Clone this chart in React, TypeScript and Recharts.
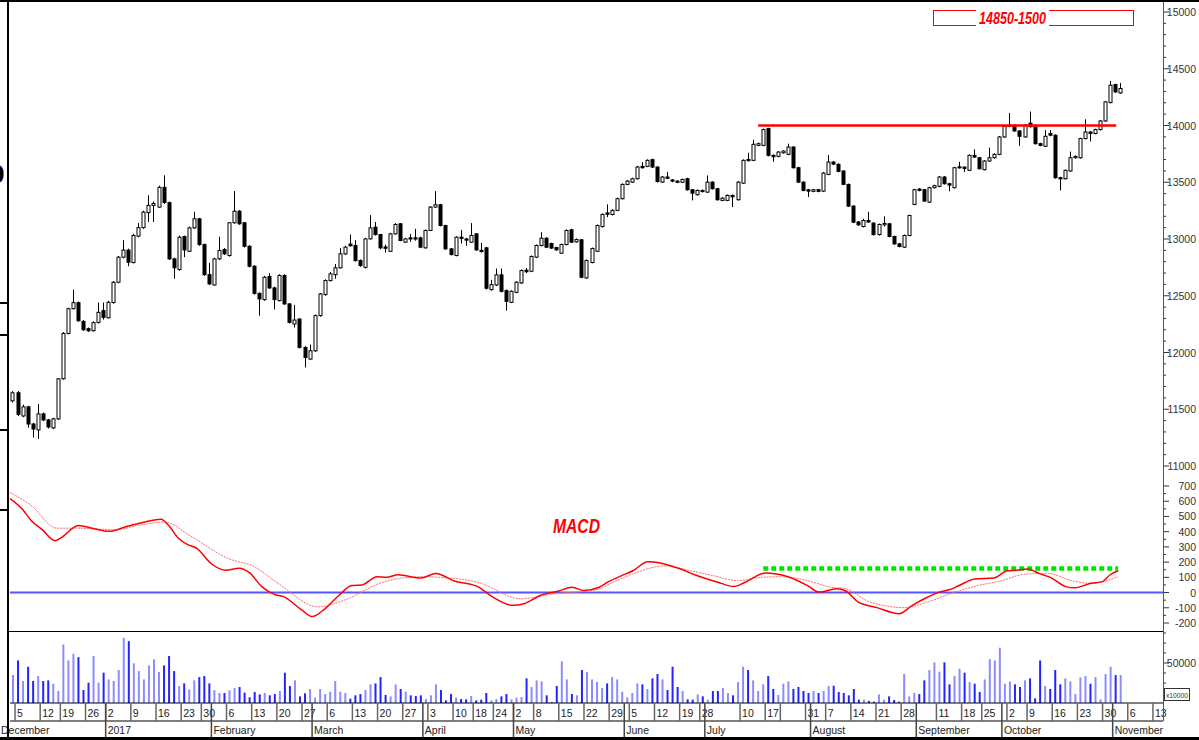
import React from 'react';
import { ComposedChart, Bar, Line, XAxis, YAxis, ReferenceLine, Cell } from 'recharts';

// ---------------- DATA ----------------
const OPEN = [
  11574, 11645, 11441, 11521, 11370, 11318, 11459, 11406, 11336, 11415, 11768, 12168, 12386, 12439, 12274, 12210, 12192, 12265, 12369, 12306,
  12440, 12619, 12840, 12902, 12792, 13025, 13100, 13232, 13296, 13281, 13455, 13320, 12825, 12731, 13021, 12892, 13098, 13178, 12951, 12686,
  12595, 12825, 12907, 12854, 13143, 13245, 13143, 12936, 12760, 12521, 12466, 12669, 12569, 12457, 12678, 12428, 12251,
  12295, 12045, 11942, 12015, 12325, 12510, 12634, 12686, 12746, 12869, 12955, 12943, 12810, 12750, 13001, 13104, 13039, 12930, 12892, 13045,
  13134, 12972, 13010, 13010, 13010, 12922, 13075, 13281, 13302, 13119, 12913, 12854, 13016, 13000, 12972, 13045, 12900, 12922, 12554, 12595,
  12684, 12545, 12442, 12530, 12613, 12725, 12716, 12840, 12943, 13007, 12960, 12925, 12875, 12951, 13081, 12975, 12993, 12657,
  12793, 12892, 13110, 13230, 13216, 13252, 13355, 13481, 13501, 13531, 13640, 13640, 13699, 13634, 13501, 13546, 13520, 13510, 13500, 13531,
  13434, 13390, 13428, 13413, 13501, 13443, 13340, 13340, 13384, 13346, 13492, 13700, 13693, 13825, 13825, 13973, 13737, 13728, 13760, 13746,
  13810, 13628, 13501, 13434, 13420, 13434, 13422, 13569, 13678, 13658, 13599, 13481, 13290, 13150, 13110, 13163, 13140, 13039,
  13125, 13134, 13022, 12957, 12928, 13031, 13305, 13440, 13434, 13325, 13452, 13464, 13546, 13487, 13452, 13628, 13633, 13605, 13737, 13716,
  13611, 13687, 13716, 13746, 13899, 13993, 14002, 13952, 13899, 14020, 13987, 13840, 13817, 13930, 13914, 13540, 13531, 13599, 13716, 13716,
  13885, 13943, 13929, 13964, 14040, 14202, 14361, 14287,
];
const HIGH = [
  11660, 11660, 11540, 11530, 11380, 11547, 11470, 11415, 11425, 11775, 12180, 12395, 12554, 12450, 12285, 12220, 12275, 12440, 12440, 12455,
  12630, 12850, 12990, 12915, 13045, 13140, 13250, 13385, 13330, 13470, 13561, 13330, 12835, 13030, 13030, 13110, 13240, 13185, 12960, 12790,
  12835, 13020, 12920, 13150, 13422, 13255, 13150, 12945, 12770, 12530, 12675, 12700, 12580, 12690, 12690, 12435, 12420,
  12300, 12055, 12070, 12335, 12525, 12645, 12710, 12780, 12920, 12940, 13039, 12990, 12820, 13010, 13210, 13150, 13045, 12950, 13055, 13140,
  13140, 13010, 13045, 13090, 13020, 13085, 13290, 13422, 13310, 13125, 12920, 13025, 13080, 13010, 13140, 13050, 12965, 12930, 12640, 12740,
  12740, 12555, 12548, 12628, 12732, 12745, 12855, 12952, 13060, 13015, 12968, 12932, 12960, 13085, 13090, 13005, 13000, 12820,
  12925, 13128, 13226, 13305, 13262, 13365, 13490, 13520, 13540, 13644, 13677, 13702, 13708, 13640, 13555, 13590, 13528, 13518, 13532, 13540,
  13440, 13436, 13436, 13560, 13508, 13450, 13368, 13392, 13392, 13510, 13702, 13760, 13875, 13850, 13973, 13980, 13745, 13775, 13782, 13840,
  13818, 13636, 13508, 13442, 13442, 13442, 13590, 13740, 13686, 13666, 13606, 13488, 13298, 13158, 13178, 13240, 13148, 13136,
  13200, 13142, 13030, 12965, 13040, 13215, 13442, 13448, 13442, 13460, 13478, 13555, 13554, 13495, 13636, 13680, 13640, 13745, 13790, 13724,
  13695, 13805, 13755, 13908, 14002, 14111, 14010, 13960, 14010, 14123, 13995, 13848, 13960, 13960, 13922, 13548, 13612, 13770, 13736, 13892,
  14055, 13950, 13972, 14048, 14216, 14393, 14368, 14375,
];
const LOW = [
  11560, 11440, 11430, 11338, 11250, 11238, 11395, 11330, 11325, 11405, 11760, 12160, 12380, 12270, 12190, 12180, 12185, 12255, 12290, 12300,
  12430, 12610, 12830, 12760, 12785, 13015, 13090, 13150, 13150, 13275, 13310, 12815, 12650, 12720, 12840, 12885, 13090, 12940, 12675, 12595,
  12590, 12815, 12860, 12845, 13135, 13125, 12925, 12750, 12510, 12325, 12455, 12560, 12380, 12450, 12420, 12255, 12220,
  12035, 11868, 11935, 12005, 12315, 12500, 12625, 12650, 12740, 12860, 12935, 12800, 12755, 12740, 12995, 13030, 12910, 12880, 12885, 13040,
  12980, 12965, 12975, 12985, 12920, 12915, 13070, 13275, 13110, 12905, 12855, 12848, 12960, 12940, 12965, 12895, 12880, 12555, 12545, 12585,
  12530, 12369, 12435, 12522, 12605, 12700, 12708, 12832, 12935, 12920, 12912, 12895, 12868, 12944, 12965, 12968, 12655, 12650,
  12785, 12885, 13100, 13193, 13208, 13245, 13348, 13474, 13494, 13524, 13620, 13633, 13626, 13498, 13494, 13527, 13500, 13492, 13493, 13426,
  13340, 13383, 13410, 13405, 13436, 13338, 13333, 13333, 13281, 13338, 13485, 13682, 13686, 13818, 13818, 13728, 13680, 13720, 13752, 13738,
  13620, 13494, 13420, 13370, 13412, 13412, 13414, 13562, 13652, 13588, 13474, 13282, 13140, 13117, 13102, 13142, 13031, 13031,
  13110, 13014, 12949, 12926, 12920, 13024, 13298, 13420, 13326, 13318, 13445, 13456, 13480, 13420, 13445, 13620, 13590, 13598, 13715, 13612,
  13604, 13680, 13708, 13738, 13892, 13985, 13945, 13820, 13892, 13982, 13832, 13817, 13810, 13905, 13532, 13428, 13524, 13592, 13708, 13708,
  13878, 13860, 13922, 13956, 14032, 14195, 14288, 14280,
];
const CLOSE = [
  11645, 11455, 11521, 11370, 11326, 11459, 11406, 11344, 11415, 11768, 12168, 12386, 12439, 12280, 12201, 12192, 12263, 12354, 12310, 12442,
  12619, 12840, 12902, 12795, 13031, 13100, 13237, 13296, 13313, 13455, 13322, 12825, 12746, 13016, 12904, 13098, 13178, 12951, 12686, 12604,
  12825, 12898, 12869, 13143, 13245, 13134, 12936, 12760, 12521, 12472, 12663, 12569, 12466, 12678, 12428, 12265, 12286,
  12045, 11956, 12015, 12325, 12516, 12634, 12693, 12746, 12869, 12928, 12940, 12810, 12766, 13001, 13098, 13039, 12922, 12918, 13045, 13128,
  12987, 13001, 13000, 13000, 12928, 13075, 13281, 13302, 13119, 12913, 12863, 13016, 13005, 12990, 13031, 12904, 12890, 12566, 12598, 12684,
  12539, 12451, 12539, 12619, 12722, 12712, 12846, 12943, 13007, 12928, 12920, 12905, 12951, 13075, 12972, 12995, 12663, 12810,
  12916, 13119, 13216, 13218, 13252, 13355, 13481, 13510, 13531, 13634, 13628, 13693, 13634, 13507, 13546, 13535, 13510, 13500, 13525, 13434,
  13404, 13428, 13418, 13501, 13443, 13346, 13360, 13384, 13372, 13501, 13693, 13690, 13834, 13840, 13964, 13737, 13725, 13766, 13775, 13810,
  13628, 13501, 13428, 13422, 13434, 13420, 13581, 13678, 13660, 13596, 13481, 13290, 13148, 13125, 13163, 13150, 13039, 13128,
  13137, 13022, 12957, 12934, 13031, 13207, 13434, 13428, 13334, 13452, 13470, 13546, 13487, 13475, 13628, 13636, 13622, 13737, 13722, 13619,
  13687, 13716, 13746, 13899, 13993, 14002, 13952, 13905, 14002, 13990, 13840, 13825, 13905, 13914, 13540, 13530, 13605, 13716, 13728, 13885,
  13943, 13930, 13964, 14040, 14208, 14355, 14296, 14326,
];
const VOLUME = [
  34900, 53200, 27500, 45300, 27500, 33700, 27500, 28300, 24100, 15000, 73200, 53200, 61600, 57400, 16200, 25400, 58700, 25400, 37900, 29500,
  27500, 41200, 81500, 77400, 49500, 39900, 29500, 47000, 54500, 38700, 47000, 58700, 39900, 21200, 24500, 17100, 28300, 32400, 33700, 24500,
  16200, 12500, 12500, 15800, 18700, 20000, 12900, 7100, 13700, 10800, 12500, 9600, 11200, 15000, 37900, 21200, 28300, 8300, 12100, 17500,
  6700, 17500, 11200, 14100, 27500, 14100, 12500, 5400, 9600, 11200, 16200, 23300, 24500, 32400, 10000, 8300, 23300, 17500, 14100, 9600,
  8700, 9600, 5000, 9600, 23300, 16200, 3300, 11200, 6700, 5000, 4600, 8700, 3300, 4200, 12500, 3300, 5000, 8300, 11200, 4600,
  6700, 7500, 30800, 20000, 28300, 27000, 9600, 1200, 21200, 52000, 29500, 11200, 9600, 41200, 38700,
  29500, 26200, 18700, 24500, 32400, 29500, 14100, 7100, 12500, 24500, 23300, 17500, 30800, 36200, 29500, 16200, 45300, 20000, 15000, 4600,
  4200, 10800, 8300, 4200, 15000, 15000, 18700, 12500, 9600, 26200, 45300, 41200, 28300, 15000, 23300, 33700, 17500, 10000, 24100, 27000,
  17500, 20000, 15000, 12500, 15000, 12500, 15000, 21200, 21600, 13700, 12500, 9600, 17500, 4200, 4200, 2500, 1700, 10800, 4200, 8300,
  3700, 1700, 36200, 8300, 12500, 11200, 28300, 41200, 50800, 39100, 50800, 23300, 33700, 42800, 37900, 26200, 24100, 13700, 29500, 54900,
  53200, 69100, 24100, 27000, 23300, 20000, 28300, 30800, 5800, 53200, 21200, 17500, 41200, 23300, 30800, 27000, 11200, 32000, 33700, 24100,
  32400, 4600, 36200, 45300, 34900, 34900,
];

// MACD and its signal line: [trading-day position, value]
const MACD_LINE: [number, number][] = [
  [0, 617], [2.6, 542], [4.1, 477], [6.4, 413], [9.0, 341], [10.1, 359], [13.6, 441], [16.3, 423], [19.7, 402], [23.0, 432],
  [26.8, 463], [30.0, 482], [31.4, 445], [33.4, 359], [35.3, 315], [37.1, 290], [40.1, 186], [42.9, 147], [45.5, 160], [47.5, 132],
  [50.0, 39], [52.7, -14], [54.2, -25], [58.0, -116], [60.0, -158], [62.6, -105], [65.3, -19], [67.9, 46], [69.9, 50], [72.9, 104],
  [74.8, 100], [77.1, 117], [81.6, 95], [84.6, 126], [88.1, 78], [92.9, 39], [95.7, -25], [99.9, -84], [102.1, -73], [105.3, -19],
  [109.0, 10], [111.6, 35], [114.0, 14], [117.0, 35], [118.7, 68], [121.4, 110], [123.7, 143], [126.7, 203], [127.9, 201], [132.9, 158],
  [136.0, 117], [140.6, 68], [143.8, 39], [146.0, 68], [150.0, 128], [154.5, 104], [158.4, 46], [160.7, 3], [164.2, 25], [166.0, 10],
  [168.4, -61], [172.2, -99], [176.6, -139], [179.2, -84], [182.3, -29], [184.6, 3], [186.5, 18], [188.5, 46], [191.6, 89], [195.4, 95],
  [198.1, 143], [200.0, 147], [202.0, 154], [204.7, 121], [206.6, 100], [209.7, 39], [211.5, 31], [214.7, 61], [217.0, 72], [218.5, 117],
  [220.1, 143],
];
const SIGNAL_LINE: [number, number][] = [
  [0, 657], [4.1, 575], [9.3, 423], [13.2, 423], [20.9, 413], [25.4, 441], [30.7, 463], [35.9, 370], [43.7, 219], [48.2, 175],
  [53.4, 57], [61.2, -94], [66.3, -51], [74.1, 68], [81.6, 104], [89.2, 89], [92.9, 68], [101.4, -41], [108.2, -8], [116.6, 20],
  [119.8, 68], [124.5, 132], [129.9, 175], [135.2, 143], [139.8, 110], [144.5, 78], [149.2, 100], [153.7, 104], [158.4, 78], [163.1, 35],
  [166.0, 25], [170.7, -61], [177.7, -99], [182.3, -61], [187.7, 3], [192.3, 46], [197.0, 78], [201.6, 121], [206.2, 126], [210.8, 78],
  [214.7, 61], [220.1, 104],
];
const MACD_LEVEL: [number, number][] = [[149.6, 158], [220.1, 158]];
const RESISTANCE: [number, number][] = [[148.6, 14000], [219.7, 14000]];

// x-axis labels: [trading-day slot, label]
const DAY_TICKS: [number, string][] = [
  [1, '5'], [6, '12'], [10, '19'], [15, '26'], [19, '2'], [24, '9'], [29, '16'], [34, '23'], [38, '30'], [43, '6'],
  [48, '13'], [53, '20'], [58, '27'], [63, '6'], [68, '13'], [73, '20'], [78, '27'], [83, '3'], [88, '10'], [92, '18'],
  [96, '24'], [100, '2'], [104, '8'], [109, '15'], [114, '22'], [119, '29'], [123, '5'], [128, '12'], [133, '19'], [137, '28'],
  [145, '10'], [150, '17'], [153, ''], [158, '31'], [162, '7'], [167, '14'], [172, '21'], [177, '28'], [184, '11'], [189, '18'],
  [193, '25'], [198, '2'], [202, '9'], [207, '16'], [212, '23'], [217, '30'], [222, '6'], [227, '13'],
];
const MONTH_TICKS: [number, string][] = [
  [0, 'December'], [19, '2017'], [40, 'February'], [60, 'March'], [82, 'April'], [100, 'May'], [122, 'June'],
  [138, 'July'], [159, 'August'], [180, 'September'], [197, 'October'], [219, 'November'],
];
const PRICE_LABELS = [11000, 11500, 12000, 12500, 13000, 13500, 14000, 14500, 15000];
const MACD_LABELS = [-200, -100, 0, 100, 200, 300, 400, 500, 600, 700];
const VOLUME_LABELS = [50000];

// ---------------- LAYOUT ----------------
const W = 1199;
const H = 740;
const LEFT = 10;
const RIGHT_W = 36;
const AXIS_X = W - RIGHT_W; // 1163
const X_DOMAIN: [number, number] = [0, 229];
const FONT = "'Liberation Sans',Arial,sans-serif";
const AXIS_FS = 10.5;

const PRICE_TOP = 0, PRICE_H = 478, PRICE_M = { top: 12, right: 0, bottom: 12, left: LEFT };
const MACD_TOP = 470, MACD_H = 160, MACD_M = { top: 16, right: 0, bottom: 7, left: LEFT };
const VOL_TOP = 625, VOL_H = 112, VOL_M = { top: 6, right: 0, bottom: 0, left: LEFT };
const DAY_H = 18, MONTH_H = 16;
const VOL_PLOT_BOTTOM = VOL_H - DAY_H - MONTH_H; // 78 in chart coords

const range = (a: number, b: number, s: number) => {
  const r: number[] = [];
  for (let v = a; v <= b + 1e-9; v += s) r.push(Math.round(v * 100) / 100);
  return r;
};
const PRICE_TICKS = range(11000, 15000, 100);
const MACD_TICKS = range(-250, 700, 50);
const VOLUME_TICKS = range(12500, 87500, 12500);

const candles = OPEN.map((o, i) => ({
  x: i + 0.5,
  range: [LOW[i], HIGH[i]],
  o,
  h: HIGH[i],
  l: LOW[i],
  c: CLOSE[i],
  vol: VOLUME[i],
  up: CLOSE[i] >= o,
}));
const toPts = (arr: [number, number][]) => arr.map(([x, v]) => ({ x, v }));
const macdData = toPts(MACD_LINE);
const signalData = toPts(SIGNAL_LINE);
const levelData = toPts(MACD_LEVEL);
const resistanceData = toPts(RESISTANCE);
const dayLabel = new Map(DAY_TICKS);
const monthLabel = new Map(MONTH_TICKS);

// ---------------- SHAPES / TICKS ----------------
const CandleShape = (props: any) => {
  const { x, y, width, height, payload } = props;
  if (payload == null || x == null) return null;
  const top = height >= 0 ? y : y + height;
  const h = Math.abs(height);
  const span = payload.h - payload.l;
  const k = span > 0 ? h / span : 0;
  const yo = top + (payload.h - payload.o) * k;
  const yc = top + (payload.h - payload.c) * k;
  const bt = Math.min(yo, yc);
  const bb = Math.max(yo, yc);
  const cx = Math.round(x + width / 2) + 0.5;
  return (
    <g>
      <line x1={cx} x2={cx} y1={top} y2={top + h} stroke="#000" strokeWidth={1} />
      <rect
        x={cx - 1.5}
        y={bt}
        width={3}
        height={Math.max(bb - bt, 1)}
        fill={payload.up ? '#fff' : '#000'}
        stroke="#000"
        strokeWidth={1}
      />
    </g>
  );
};

const makeRightTick = (labels: number[]) => (props: any) => {
  const { y, payload } = props;
  const v = payload.value;
  const major = labels.includes(v);
  return (
    <g>
      <line x1={AXIS_X} x2={AXIS_X + (major ? 6 : 3)} y1={y} y2={y} stroke="#333" strokeWidth={1} />
      {major && (
        <text x={W - 3} y={y + 4} textAnchor="end" fontSize={AXIS_FS} fontFamily={FONT} fill="#333">
          {v}
        </text>
      )}
    </g>
  );
};
const PriceTick = makeRightTick(PRICE_LABELS);
const MacdTick = makeRightTick(MACD_LABELS);
const VolTick = makeRightTick(VOLUME_LABELS);

const DayTick = (props: any) => {
  const { x, payload } = props;
  const label = dayLabel.get(payload.value) || '';
  return (
    <g>
      <line x1={x} x2={x} y1={VOL_PLOT_BOTTOM} y2={VOL_PLOT_BOTTOM + DAY_H} stroke="#666" strokeWidth={1.5} />
      {label && (
        <text x={x + 2} y={VOL_PLOT_BOTTOM + 14} fontSize={AXIS_FS} fontFamily={FONT} fill="#222">
          {label}
        </text>
      )}
    </g>
  );
};

const MonthTick = (props: any) => {
  const { x, payload } = props;
  const label = monthLabel.get(payload.value) || '';
  const first = payload.value === 0;
  return (
    <g>
      {!first && <line x1={x} x2={x} y1={VOL_PLOT_BOTTOM} y2={VOL_H} stroke="#444" strokeWidth={1.5} />}
      <text x={first ? 1 : x + 2} y={VOL_H - 3} fontSize={AXIS_FS} fontFamily={FONT} fill="#222">
        {label}
      </text>
    </g>
  );
};

// ---------------- APP ----------------
export default function App() {
  return (
    <div style={{ position: 'absolute', left: 0, top: 0, width: W, height: H, background: '#fff', overflow: 'hidden' }}>
      {/* Price panel */}
      <div style={{ position: 'absolute', left: 0, top: PRICE_TOP }}>
        <ComposedChart width={W} height={PRICE_H} data={candles} margin={PRICE_M}>
          <XAxis dataKey="x" type="number" domain={X_DOMAIN} hide allowDataOverflow />
          <YAxis
            orientation="right"
            type="number"
            domain={[11000, 15000]}
            ticks={PRICE_TICKS}
            interval={0}
            tick={PriceTick}
            tickLine={false}
            axisLine={false}
            width={RIGHT_W}
            allowDataOverflow
          />
          <Bar dataKey="range" barSize={4} shape={(p: any) => <CandleShape {...p} />} isAnimationActive={false} />
          <Line
            data={resistanceData}
            dataKey="v"
            type="linear"
            stroke="#ff0000"
            strokeWidth={2.5}
            dot={false}
            isAnimationActive={false}
          />
        </ComposedChart>
      </div>

      {/* MACD panel */}
      <div style={{ position: 'absolute', left: 0, top: MACD_TOP }}>
        <ComposedChart width={W} height={MACD_H} margin={MACD_M}>
          <XAxis dataKey="x" type="number" domain={X_DOMAIN} hide allowDataOverflow />
          <YAxis
            orientation="right"
            type="number"
            domain={[-200, 700]}
            ticks={MACD_TICKS}
            interval={0}
            tick={MacdTick}
            tickLine={false}
            axisLine={false}
            width={RIGHT_W}
            allowDataOverflow
          />
          <ReferenceLine y={0} stroke="#5555ff" strokeWidth={2} />
          <Line
            data={levelData}
            dataKey="v"
            type="linear"
            stroke="#00e600"
            strokeWidth={4.5}
            strokeDasharray="5 3"
            dot={false}
            isAnimationActive={false}
          />
          <Line
            data={signalData}
            dataKey="v"
            type="monotone"
            stroke="#ff6a6a"
            strokeWidth={1}
            strokeDasharray="2 1"
            dot={false}
            isAnimationActive={false}
          />
          <Line
            data={macdData}
            dataKey="v"
            type="monotone"
            stroke="#ff0000"
            strokeWidth={1.5}
            dot={false}
            isAnimationActive={false}
          />
        </ComposedChart>
      </div>

      {/* Volume panel + date axis */}
      <div style={{ position: 'absolute', left: 0, top: VOL_TOP }}>
        <ComposedChart width={W} height={VOL_H} data={candles} margin={VOL_M}>
          <XAxis
            xAxisId="d"
            dataKey="x"
            type="number"
            domain={X_DOMAIN}
            ticks={DAY_TICKS.map((t) => t[0])}
            interval={0}
            tick={DayTick}
            tickLine={false}
            axisLine={{ stroke: '#000' }}
            height={DAY_H}
            allowDataOverflow
          />
          <XAxis
            xAxisId="m"
            dataKey="x"
            type="number"
            domain={X_DOMAIN}
            ticks={MONTH_TICKS.map((t) => t[0])}
            interval={0}
            tick={MonthTick}
            tickLine={false}
            axisLine={{ stroke: '#000' }}
            height={MONTH_H}
            allowDataOverflow
          />
          <YAxis
            orientation="right"
            type="number"
            domain={[0, 90000]}
            ticks={VOLUME_TICKS}
            interval={0}
            tick={VolTick}
            tickLine={false}
            axisLine={false}
            width={RIGHT_W}
            allowDataOverflow
          />
          <Bar xAxisId="d" dataKey="vol" barSize={2} isAnimationActive={false}>
            {candles.map((d, i) => (
              <Cell key={i} fill={d.up ? '#8c8cff' : '#2323ff'} />
            ))}
          </Bar>
        </ComposedChart>
      </div>

      {/* Frame and annotations */}
      <svg width={W} height={H} style={{ position: 'absolute', left: 0, top: 0, pointerEvents: 'none' }}>
        <rect x={0} y={0} width={W} height={2} fill="#000" />
        <rect x={7} y={0} width={2} height={H} fill="#000" />
        <rect x={0} y={737} width={W} height={3} fill="#000" />
        <line x1={AXIS_X + 0.5} x2={AXIS_X + 0.5} y1={2} y2={721} stroke="#555" strokeWidth={1} />
        <line x1={8} x2={AXIS_X} y1={631.5} y2={631.5} stroke="#000" strokeWidth={1} />
        {[303, 335, 430, 510].map((y) => (
          <line key={y} x1={0} x2={7} y1={y} y2={y} stroke="#000" strokeWidth={2} />
        ))}
        <text x={-10} y={183} fontSize={26} fontWeight="bold" fontFamily={FONT} fill="#000">
          9
        </text>
        <rect x={933.5} y={10.5} width={200} height={15} fill="none" stroke="#ff0000" strokeWidth={1} />
        <rect x={976} y={8} width={73} height={20} fill="#fff" />
        <text
          x={979}
          y={24}
          fontSize={16}
          fontWeight="bold"
          fontStyle="italic"
          fontFamily={FONT}
          fill="#ff0000"
          textLength={67}
          lengthAdjust="spacingAndGlyphs"
        >
          14850-1500
        </text>
        <text
          x={553}
          y={533}
          fontSize={20}
          fontWeight="bold"
          fontStyle="italic"
          fontFamily={FONT}
          fill="#ff0000"
          textLength={47}
          lengthAdjust="spacingAndGlyphs"
        >
          MACD
        </text>
        <rect x={1164.5} y={688.5} width={25} height={12} fill="#fff" stroke="#333" strokeWidth={1} />
        <text x={1166} y={698} fontSize={8} fontFamily={FONT} fill="#333" textLength={22} lengthAdjust="spacingAndGlyphs">
          x10000
        </text>
      </svg>
    </div>
  );
}
